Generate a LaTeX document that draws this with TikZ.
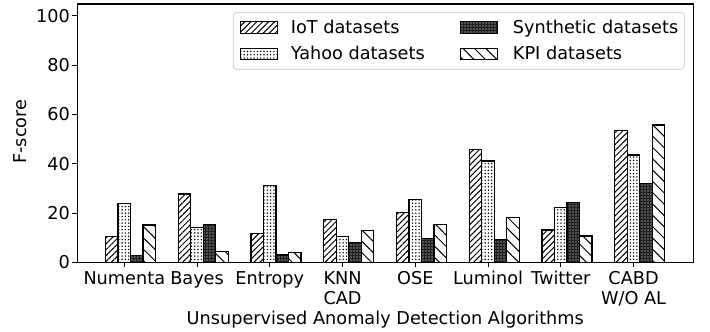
\documentclass[tikz,border=0pt]{standalone}
\usepackage{fontspec}
\setmainfont{DejaVu Sans}
\usetikzlibrary{patterns.meta}
\begin{document}
\begin{tikzpicture}[x=1pt,y=1pt,
  bar/.style={draw=black, line width=1.2pt},
  iot/.style={bar, pattern={Lines[angle=45,distance=4.2pt,line width=1pt]}},
  yahoo/.style={bar, pattern={Dots[radius=0.8pt,distance=3.3pt]}},
  synth/.style={bar, preaction={fill=black!88}, pattern={Dots[radius=0.55pt,distance=3pt]}, pattern color=white},
  kpi/.style={bar, pattern={Lines[angle=-45,distance=8pt,line width=1pt]}},
  lbl/.style={font=\fontsize{17.7}{21}\selectfont, inner sep=0pt},
  tickmark/.style={line width=0.9pt},
]
\useasboundingbox (0,0) rectangle (710,332);
% bars
\begin{scope}[shift={(124.3,69.7)}, x=72.75pt, y=2.466pt]
\def\w{0.172}
\foreach \i/\a/\b/\c/\d in {0/10.5/23.8/2.8/15.1, 1/27.7/14.0/15.4/4.5, 2/11.6/31.1/3.0/4.0, 3/17.4/10.4/8.0/12.8, 4/20.3/25.5/9.7/15.4, 5/45.8/41.1/9.3/18.2, 6/13.1/22.1/24.2/10.7, 7/53.6/43.5/32.0/55.7}{
  \path[iot]   ({\i-1.5*\w},0) rectangle ({\i-0.5*\w},\a);
  \path[yahoo] ({\i-0.5*\w},0) rectangle ({\i+0.5*\w},\b);
  \path[synth] ({\i+0.5*\w},0) rectangle ({\i+1.5*\w},\c);
  \path[kpi]   ({\i+1.5*\w},0) rectangle ({\i+2.5*\w},\d);
}
\end{scope}
% frame
\draw[line width=1.1pt] (77.3,69.7) rectangle (693.3,328);
% y ticks
\foreach \v in {0,20,40,60,80,100}{
  \draw[tickmark] (72.4,{69.7+2.466*\v}) -- (77.3,{69.7+2.466*\v});
  \node[lbl, anchor=base east] (yt\v) at (70,{69.7+2.466*\v-6.4}) {\v};
}
% x ticks
\foreach \i/\t [count=\n] in {0/Numenta, 1/Bayes, 2/Entropy, 3/KNN, 4/OSE, 5/Luminol, 6/Twitter, 7/CABD}{
  \draw[tickmark] ({124.3+72.75*\i},69.7) -- ({124.3+72.75*\i},64.8);
  \node[lbl, anchor=base] (xt\n) at ({124.3+72.75*\i},47) {\t};
}
\node[lbl, anchor=base] (xt4b) at ({124.3+72.75*3},27) {CAD};
\node[lbl, anchor=base] (xt8b) at ({124.3+72.75*7},27) {W/O AL};
% axis labels
\node[lbl, anchor=base] (xlabel) at (385.3,7.9) {Unsupervised Anomaly Detection Algorithms};
\node[lbl, anchor=base, rotate=90] (ylabel) at (26.5,200.3) {F-score};
% legend
\draw[black!15, fill=white, rounded corners=3pt, line width=1pt] (233.3,262.7) rectangle (684.3,319.3);
\path[iot, line width=0.8pt]   (240.7,298.7) rectangle (277.3,310.3);
\path[yahoo, line width=0.8pt] (240.7,272.7) rectangle (277.3,283.7);
\path[synth, line width=0.8pt] (460.7,298.7) rectangle (497.3,310.3);
\path[kpi, line width=0.8pt]   (460.7,272.7) rectangle (497.3,283.7);
\node[lbl, anchor=base west] (l1) at (290.7,298.3) {IoT datasets};
\node[lbl, anchor=base west] (l2) at (290.7,272.3) {Yahoo datasets};
\node[lbl, anchor=base west] (l3) at (512.7,298.3) {Synthetic datasets};
\node[lbl, anchor=base west] (l4) at (512.7,272.3) {KPI datasets};
\end{tikzpicture}
\end{document}
